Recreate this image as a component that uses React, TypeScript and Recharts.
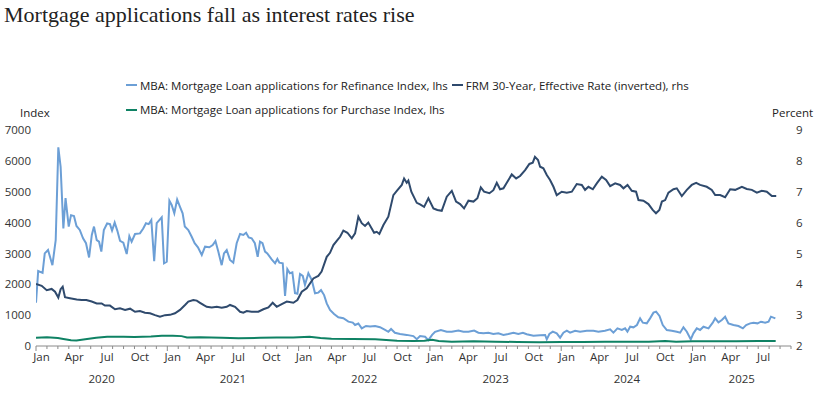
import { Line, LineChart, XAxis, YAxis } from 'recharts';

// months since 1 Jan 2020 (fractional) and the MBA refinance index
const refiMonth = [
  0, 0.2, 0.6, 0.8, 1.1, 1.5, 1.8, 2.04, 2.25, 2.5, 2.7, 2.99, 3.2, 3.47, 3.7, 4.0, 4.3, 4.57, 4.85, 5.1,
  5.3, 5.55, 5.76, 5.97, 6.2, 6.5, 6.76, 6.95, 7.19, 7.43, 7.68, 7.98, 8.29, 8.53, 8.74, 9.05, 9.5, 9.8,
  10.05, 10.3, 10.54, 10.8, 11.03, 11.27, 11.49, 11.7, 11.95, 12.19, 12.4, 12.64, 12.9, 13.16, 13.4, 13.6,
  13.92, 14.23, 14.5, 14.8, 15.15, 15.45, 15.84, 16.15, 16.4, 16.66, 16.97, 17.18, 17.43, 17.73, 18.03,
  18.34, 18.65, 18.95, 19.2, 19.44, 19.71, 20.0, 20.26, 20.47, 20.7, 20.93, 21.14, 21.54, 21.85, 22.06,
  22.24, 22.55, 22.76, 22.97, 23.2, 23.43, 23.67, 23.89, 24.13, 24.38, 24.58, 24.89, 25.2, 25.5, 25.8,
  26.05, 26.33, 26.57, 26.87, 27.24, 27.63, 28.09, 28.55, 28.95, 29.16, 29.46, 29.77, 30.16, 30.53, 30.99,
  31.44, 31.9, 32.2, 32.45, 32.8, 33.27, 33.88, 34.49, 34.8, 35.1, 35.56, 35.86, 36.2, 36.47, 37.0, 37.54,
  38.0, 38.6, 39.06, 39.52, 40.04, 40.43, 40.89, 41.35, 41.8, 42.26, 42.72, 43.17, 43.63, 44.08, 44.5,
  44.85, 45.46, 46.07, 46.53, 46.68, 46.92, 47.23, 47.59, 47.9, 48.2, 48.51, 48.81, 49.27, 49.72, 50.34,
  50.94, 51.4, 52.0, 52.47, 52.77, 53.14, 53.54, 53.84, 54.05, 54.3, 54.6, 54.92, 55.21, 55.46, 55.82,
  56.12, 56.43, 56.67, 56.98, 57.28, 57.65, 58.1, 58.56, 58.87, 59.17, 59.48, 59.84, 60.08, 60.39, 60.69,
  61.0, 61.46, 61.85, 62.07, 62.37, 62.68, 62.98, 63.28, 63.74, 64.2, 64.6, 64.9, 65.27, 65.57, 65.94,
  66.25, 66.64, 66.95, 67.17, 67.57,
];
const refiIndex = [
  1400, 2430, 2370, 3000, 3110, 2620, 3430, 6440, 5810, 3810, 4790, 3870, 4240, 4210, 3890, 3760, 3490, 3330, 2870, 3600,
  3870, 3430, 3380, 3060, 3760, 3970, 3950, 3740, 4000, 3740, 3410, 3350, 2980, 3560, 3380, 3630, 3650, 3810,
  3980, 3950, 4080, 2750, 3980, 4080, 4170, 2680, 2730, 4710, 4570, 4300, 4750, 4510, 4300, 3870,
  3760, 3540, 3330, 3200, 2950, 3220, 3200, 3270, 3400, 3060, 2620, 3000, 3110, 2790, 2700,
  3330, 3630, 3600, 3670, 3520, 3490, 3330, 2890, 3380, 3330, 3060, 3000, 2810, 2680, 2820,
  2700, 2680, 1620, 2490, 2360, 2390, 1710, 1690, 2330, 2270, 1980, 2360, 2140, 1710, 1730,
  1810, 1650, 1380, 1170, 1040, 930, 900, 790, 760, 680, 730, 570, 650, 630, 650,
  610, 520, 460, 550, 430, 390, 360, 320, 220, 320, 300, 190, 360, 460, 520, 460,
  460, 500, 460, 460, 500, 430, 410, 430, 390, 410, 360, 390, 430, 390, 430,
  380, 335, 346, 356, 216, 389, 464, 410, 270, 432, 496, 432, 496, 464, 496,
  496, 464, 496, 540, 432, 572, 518, 572, 464, 626, 605, 680, 896, 756, 734,
  896, 1080, 1112, 972, 680, 518, 496, 464, 432, 605, 464, 216, 410, 572, 518,
  626, 572, 756, 896, 767, 842, 950, 734, 680, 648, 572, 680, 734, 756, 734,
  788, 756, 788, 950, 896,
];

const purchaseMonth = [
  0, 1, 2, 2.5, 3.2, 3.7, 4.5, 5.5, 6.5, 8, 9, 10.5, 11.5, 12.5, 13.3, 13.8, 15, 17, 18.5, 20.5, 22, 23.5,
  25, 26, 27, 29, 31, 33, 34.5, 35.5, 36.2, 36.8, 38, 40, 42, 44, 46, 48, 50, 52, 54, 56, 57.5, 58.5, 60,
  62, 64, 66, 67.6,
];
const purchaseIndex = [
  270, 280, 260, 230, 190, 180, 220, 270, 300, 300, 295, 310, 330, 335, 320, 275, 280, 265, 250, 265, 275, 275,
  300, 260, 238, 225, 216, 170, 160, 170, 200, 160, 140, 150, 140, 130, 125, 130, 130, 140, 135, 140, 160, 140, 150,
  150, 155, 165, 165,
];

const rateMonth = [
  0, 0.52, 0.98, 1.43, 1.74, 2.04, 2.25, 2.44, 2.65, 3.1, 3.72, 4.17, 4.6, 5.09, 5.55, 6.0, 6.3, 6.76, 7.22,
  7.68, 8.14, 8.6, 9.05, 9.5, 9.96, 10.42, 10.88, 11.33, 11.79, 12.25, 12.7, 13.16, 13.62, 13.92, 14.38,
  14.69, 14.99, 15.3, 15.6, 16.06, 16.52, 16.97, 17.43, 17.73, 18.19, 18.65, 18.95, 19.26, 19.71, 20.32,
  20.78, 21.24, 21.63, 22.0, 22.46, 22.92, 23.52, 23.89, 24.29, 24.74, 25.35, 25.8, 26.1, 26.57, 26.87,
  27.18, 27.54, 27.79, 28.09, 28.46, 28.86, 29.16, 29.46, 29.77, 30.07, 30.37, 30.68, 30.9, 31.14, 31.38,
  31.75, 32.2, 32.66, 33.03, 33.43, 33.64, 33.88, 34.03, 34.3, 34.8, 35.1, 35.47, 35.86, 36.32, 36.68,
  37.08, 37.54, 38.0, 38.39, 38.76, 39.12, 39.52, 39.98, 40.34, 40.65, 40.95, 41.44, 41.8, 42.11, 42.41,
  42.72, 43.08, 43.48, 43.88, 44.24, 44.7, 45.09, 45.4, 45.6, 45.88, 46.07, 46.37, 46.68, 46.98, 47.29,
  47.59, 48.05, 48.51, 48.97, 49.42, 49.88, 50.18, 50.49, 50.89, 51.25, 51.71, 52.1, 52.47, 52.93, 53.38,
  53.69, 54.06, 54.45, 54.84, 55.06, 55.51, 55.97, 56.36, 56.66, 56.97, 57.2, 57.5, 57.8, 58.26, 58.56,
  59.02, 59.48, 59.93, 60.33, 60.69, 61.3, 61.76, 62.07, 62.52, 62.98, 63.44, 63.9, 64.51, 64.96, 65.42,
  65.88, 66.33, 66.79, 67.25, 67.65,
];
const ratePct = [
  4.01, 3.95, 3.81, 3.85, 3.76, 3.57, 3.84, 3.92, 3.58, 3.55, 3.51, 3.49, 3.49, 3.44, 3.38, 3.38, 3.31, 3.31, 3.19,
  3.22, 3.17, 3.21, 3.11, 3.13, 3.08, 3.06, 3.0, 2.95, 3.0, 3.01, 3.06, 3.17, 3.33, 3.44, 3.49,
  3.47, 3.4, 3.33, 3.27, 3.25, 3.27, 3.24, 3.27, 3.33, 3.27, 3.11, 3.08, 3.13, 3.11, 3.11,
  3.19, 3.25, 3.4, 3.27, 3.36, 3.44, 3.4, 3.49, 3.76, 3.87, 4.19, 4.27, 4.41, 4.89, 5.02,
  5.27, 5.43, 5.54, 5.74, 5.67, 5.49, 5.65, 6.19, 5.98, 5.89, 6.0, 5.81, 5.67, 5.7, 5.63,
  5.92, 6.19, 6.89, 7.05, 7.22, 7.43, 7.29, 7.36, 7.0, 6.64, 6.59, 6.51, 6.79, 6.46, 6.41,
  6.38, 6.84, 7.03, 6.68, 6.6, 6.46, 6.71, 6.68, 6.79, 7.14, 7.0, 6.95, 7.05, 7.29, 7.08,
  7.11, 7.32, 7.56, 7.43, 7.51, 7.7, 7.9, 7.94, 8.13, 8.03, 7.81, 7.76, 7.54, 7.38, 7.16,
  6.89, 7.0, 6.97, 7.0, 7.25, 7.22, 7.06, 7.16, 7.08, 7.27, 7.49, 7.38, 7.18, 7.27, 7.22,
  7.11, 7.22, 7.03, 7.0, 6.73, 6.71, 6.6, 6.41, 6.3, 6.41, 6.68, 6.73, 6.97, 7.08, 7.11,
  6.86, 7.06, 7.22, 7.29, 7.22, 7.16, 7.06, 6.89, 6.89, 6.82, 7.08, 7.06, 7.16, 7.09, 7.06,
  6.97, 7.03, 7.0, 6.86, 6.86,
];

const monthLabels = ['Jan', 'Apr', 'Jul', 'Oct'];
const leftTicks = [0, 1000, 2000, 3000, 4000, 5000, 6000, 7000];
const rightTicks = [2, 3, 4, 5, 6, 7, 8, 9];
const firstYear = 2020;
const totalMonths = 69; // Jan 2020 .. end of Sep 2025

const REFI = '#6c9fd6';
const RATE = '#2f4a6d';
const PURCHASE = '#0f8264';
const FONT = '"Open Sans", "Noto Sans", sans-serif';

const plotLeft = 36;
const plotRight = 791;
const monthPx = (plotRight - plotLeft) / totalMonths;
const monthTicks = Array.from({ length: totalMonths + 1 }, (_, i) => i);

const refiData = refiMonth.map((m, i) => ({ m, refi: refiIndex[i] }));
const purchaseData = purchaseMonth.map((m, i) => ({ m, purchase: purchaseIndex[i] }));
const rateData = rateMonth.map((m, i) => ({ m, rate: ratePct[i] }));

function MonthTick(props: any) {
  const { x, y, payload } = props;
  const m = payload.value as number;
  const mon = m % 12;
  const year = firstYear + Math.floor(m / 12);
  const yearSpan = Math.min(12, totalMonths - m);
  return (
    <g>
      <line x1={x} x2={x} y1={y} y2={y + (mon === 0 ? 5 : 3)} stroke="#8a8a8a" />
      {mon % 3 === 0 && m < totalMonths && (
        <text x={x + monthPx / 2} y={y + 15} textAnchor="middle" fontSize={11.5} fill="#333" fontFamily={FONT}>
          {monthLabels[mon / 3]}
        </text>
      )}
      {mon === 0 && yearSpan > 0 && (
        <text x={x + (yearSpan * monthPx) / 2} y={y + 37} textAnchor="middle" fontSize={11.5} fill="#333" fontFamily={FONT}>
          {year}
        </text>
      )}
    </g>
  );
}

function LegendItem({ color, label }: { color: string; label: string }) {
  return (
    <span style={{ display: 'inline-flex', alignItems: 'center', marginRight: 4 }}>
      <span style={{ display: 'inline-block', width: 11, height: 2, background: color, marginRight: 3 }} />
      {label}
    </span>
  );
}

export default function App() {
  return (
    <div style={{ position: 'relative', width: 814, height: 395, background: '#fff', fontFamily: FONT, color: '#222' }}>
      <style>{'body{margin:0}'}</style>
      <div
        style={{
          position: 'absolute',
          left: 4,
          top: 2,
          fontFamily: '"Liberation Serif", serif',
          fontSize: 22,
          color: '#222',
          whiteSpace: 'nowrap',
        }}
      >
        Mortgage applications fall as interest rates rise
      </div>
      <div style={{ position: 'absolute', left: 126, top: 71, fontSize: 11.5, lineHeight: '21px', whiteSpace: 'nowrap' }}>
        <div>
          <LegendItem color={REFI} label="MBA: Mortgage Loan applications for Refinance Index, lhs" />
          <LegendItem color={RATE} label="FRM 30-Year, Effective Rate (inverted), rhs" />
        </div>
        <div>
          <LegendItem color={PURCHASE} label="MBA: Mortgage Loan applications for Purchase Index, lhs" />
        </div>
      </div>
      <div style={{ position: 'absolute', left: 20, top: 105, fontSize: 11.5 }}>Index</div>
      <div style={{ position: 'absolute', left: 772, top: 105, fontSize: 11.5 }}>Percent</div>
      <div style={{ position: 'absolute', left: 0, top: 0 }}>
        <LineChart width={814} height={395} margin={{ top: 130, right: 0, bottom: 0, left: 0 }}>
          <XAxis
            dataKey="m"
            type="number"
            domain={[0, totalMonths]}
            ticks={monthTicks}
            interval={0}
            allowDataOverflow
            height={49}
            tickLine={false}
            tickSize={0}
            tickMargin={0}
            axisLine={{ stroke: '#8a8a8a' }}
            tick={<MonthTick />}
          />
          <YAxis
            yAxisId="lhs"
            orientation="left"
            domain={[0, 7000]}
            ticks={leftTicks}
            width={36}
            axisLine={false}
            tickLine={false}
            tickSize={3}
            tickMargin={2}
            tick={{ fontSize: 11.5, fill: '#333', fontFamily: FONT }}
          />
          <YAxis
            yAxisId="rhs"
            orientation="right"
            domain={[2, 9]}
            ticks={rightTicks}
            width={23}
            axisLine={false}
            tickLine={false}
            tickSize={2}
            tickMargin={3}
            tick={{ fontSize: 11.5, fill: '#333', fontFamily: FONT }}
          />
          <Line
            yAxisId="lhs"
            data={refiData}
            dataKey="refi"
            type="linear"
            stroke={REFI}
            strokeWidth={2}
            dot={false}
            isAnimationActive={false}
          />
          <Line
            yAxisId="rhs"
            data={rateData}
            dataKey="rate"
            type="linear"
            stroke={RATE}
            strokeWidth={2}
            dot={false}
            isAnimationActive={false}
          />
          <Line
            yAxisId="lhs"
            data={purchaseData}
            dataKey="purchase"
            type="linear"
            stroke={PURCHASE}
            strokeWidth={2}
            dot={false}
            isAnimationActive={false}
          />
        </LineChart>
      </div>
    </div>
  );
}
